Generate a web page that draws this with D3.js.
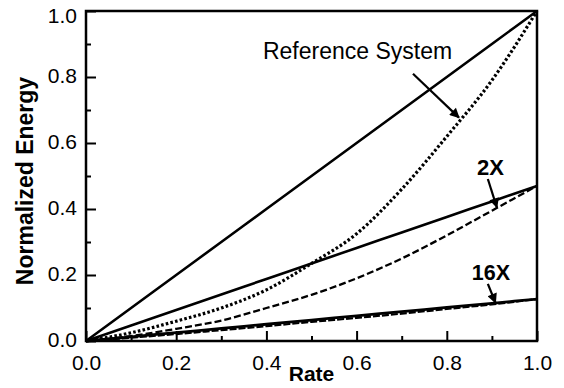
<!DOCTYPE html>
<html>
<head>
<meta charset="utf-8">
<script src="https://cdn.jsdelivr.net/npm/d3@7/dist/d3.min.js"></script>
<style>
  body { margin: 0; background: #fff; }
  text { font-family: "Liberation Sans", Arial, Helvetica, sans-serif; fill: #000; }
</style>
</head>
<body>
<svg id="chart" width="564" height="388"></svg>
<script>

// rate values the curves are read at
const rates      = [0, 0.1, 0.2, 0.3, 0.4, 0.5, 0.6, 0.7, 0.8, 0.9, 1.0];

// normalized energy
const refLinear  = [0, 0.1, 0.2, 0.3, 0.4, 0.5, 0.6, 0.7, 0.8, 0.9, 1.0];
const refCurve   = [0, 0.025, 0.06, 0.10, 0.155, 0.235, 0.325, 0.46, 0.62, 0.79, 1.0];
const x2Linear   = [0, 0.047, 0.094, 0.141, 0.188, 0.235, 0.282, 0.329, 0.376, 0.423, 0.47];
const x2Curve    = [0, 0.015, 0.037, 0.062, 0.10, 0.14, 0.19, 0.25, 0.32, 0.395, 0.47];
const x16Linear  = [0, 0.0127, 0.0254, 0.0381, 0.0508, 0.0635, 0.0762, 0.0889, 0.1016, 0.1143, 0.127];
const x16Curve   = [0, 0.010, 0.021, 0.033, 0.045, 0.058, 0.070, 0.083, 0.097, 0.111, 0.127];

const xTicks     = [0, 0.2, 0.4, 0.6, 0.8, 1.0];
const yTicks     = [0, 0.2, 0.4, 0.6, 0.8, 1.0];
const minorTicks = [0.1, 0.3, 0.5, 0.7, 0.9];

// labels: text, label anchor (data), arrow start and tip (data)
const notes = [
  { text: 'Reference System', bold: false, size: 23, lx: 0.602, ly: 0.855, ax: 0.725, ay: 0.81, tx: 0.827, ty: 0.677 },
  { text: '2X',  bold: true, size: 22, lx: 0.897, ly: 0.503, ax: 0.891, ay: 0.491, tx: 0.911, ty: 0.405 },
  { text: '16X', bold: true, size: 21.5, lx: 0.898, ly: 0.185, ax: 0.891, ay: 0.173, tx: 0.908, ty: 0.116 }
];


const svg    = d3.select('#chart');
const margin = { top: 11, right: 27, bottom: 47, left: 86 };
const width  = 564 - margin.left - margin.right;
const height = 388 - margin.top - margin.bottom;

const x = d3.scaleLinear().domain([0, 1]).range([0, width]);
const y = d3.scaleLinear().domain([0, 1]).range([height, 0]);

const g = svg.append('g')
  .attr('transform', `translate(${margin.left},${margin.top})`);

svg.append('defs').append('marker')
    .attr('id', 'head')
    .attr('viewBox', '0 0 10 10')
    .attr('refX', 9).attr('refY', 5)
    .attr('markerWidth', 5.5).attr('markerHeight', 4.5)
    .attr('markerUnits', 'strokeWidth')
    .attr('orient', 'auto')
  .append('path')
    .attr('d', 'M0,0 L10,5 L0,10 Z')
    .attr('fill', '#000');

// curves
const line = d3.line()
  .x((d, i) => x(rates[i]))
  .y(d => y(d))
  .curve(d3.curveMonotoneX);

const series = [
  { data: refLinear, w: 2.6, dash: null },
  { data: refCurve,  w: 3.2, dash: '2.6,2.2' },
  { data: x2Linear,  w: 2.6, dash: null },
  { data: x2Curve,   w: 2.3, dash: '7,3' },
  { data: x16Curve,  w: 2.2, dash: '7,2' },
  { data: x16Linear, w: 2.8, dash: null }
];

g.selectAll('path.series').data(series)
  .enter().append('path')
    .attr('class', 'series')
    .attr('d', d => line(d.data))
    .attr('fill', 'none')
    .attr('stroke', '#000')
    .attr('stroke-width', d => d.w)
    .attr('stroke-dasharray', d => d.dash);

// axes (ticks pointing inward)
const xAxis = d3.axisBottom(x).tickValues(xTicks).tickSize(-10).tickPadding(14)
  .tickFormat(d3.format('.1f'));
const yAxis = d3.axisLeft(y).tickValues(yTicks).tickSize(-10).tickPadding(9)
  .tickFormat(d3.format('.1f'));

const xAxisG = g.append('g').attr('transform', `translate(0,${height})`).call(xAxis);
const yAxisG = g.append('g').call(yAxis);

[xAxisG, yAxisG].forEach(a => {
  a.select('.domain').remove();
  a.selectAll('.tick line').attr('stroke', '#000').attr('stroke-width', 2);
  a.selectAll('.tick text').attr('font-size', 21).attr('font-family', '"Liberation Sans", Arial, sans-serif');
});

// y labels sit a little above their tick; the top one is pushed down to fit
yAxisG.selectAll('.tick text')
  .attr('y', d => d === 1 ? 5 : -1.5);

g.append('g').attr('transform', `translate(0,${height})`)
  .call(d3.axisBottom(x).tickValues(minorTicks).tickSize(-5).tickFormat(''))
  .call(a => a.select('.domain').remove())
  .selectAll('.tick line').attr('stroke-width', 2);

g.append('g')
  .call(d3.axisLeft(y).tickValues(minorTicks).tickSize(-5).tickFormat(''))
  .call(a => a.select('.domain').remove())
  .selectAll('.tick line').attr('stroke-width', 2);

// frame
g.append('rect')
  .attr('width', width).attr('height', height)
  .attr('fill', 'none')
  .attr('stroke', '#000')
  .attr('stroke-width', 2.5);

// axis titles
g.append('text')
  .attr('x', width / 2).attr('y', height + 40)
  .attr('text-anchor', 'middle')
  .attr('font-size', 21).attr('font-weight', 'bold')
  .text('Rate');

g.append('text')
  .attr('transform', `translate(${-53},${height / 2 + 5}) rotate(-90)`)
  .attr('text-anchor', 'middle')
  .attr('font-size', 23).attr('font-weight', 'bold')
  .text('Normalized Energy');

// annotations
notes.forEach(n => {
  g.append('text')
    .attr('x', x(n.lx)).attr('y', y(n.ly))
    .attr('text-anchor', 'middle')
    .attr('font-size', n.size)
    .attr('font-weight', n.bold ? 'bold' : 'normal')
    .text(n.text);

  g.append('line')
    .attr('x1', x(n.ax)).attr('y1', y(n.ay))
    .attr('x2', x(n.tx)).attr('y2', y(n.ty))
    .attr('stroke', '#000')
    .attr('stroke-width', 2.2)
    .attr('marker-end', 'url(#head)');
});

</script>
</body>
</html>
